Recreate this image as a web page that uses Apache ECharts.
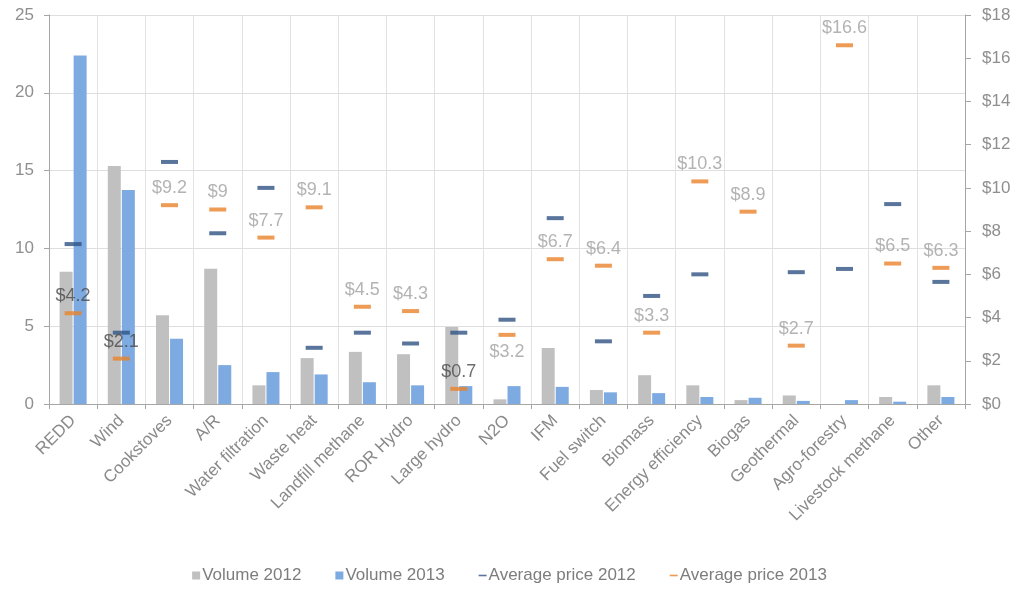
<!DOCTYPE html>
<html>
<head>
<meta charset="utf-8">
<script src="https://cdn.jsdelivr.net/npm/echarts@6/dist/echarts.min.js"></script>
<style>
  html, body { margin: 0; padding: 0; background: #fff; }
  #chart { width: 1019px; height: 594px; }
</style>
</head>
<body>
<div id="chart"></div>
<script>
// Offset project types
const categories = ['REDD', 'Wind', 'Cookstoves', 'A/R', 'Water filtration', 'Waste heat',
  'Landfill methane', 'ROR Hydro', 'Large hydro', 'N2O', 'IFM', 'Fuel switch', 'Biomass',
  'Energy efficiency', 'Biogas', 'Geothermal', 'Agro-forestry', 'Livestock methane', 'Other'];

// Transacted volume (MtCO2e)
const volume2012 = [8.5, 15.3, 5.7, 8.7, 1.2, 2.95, 3.35, 3.2, 4.95, 0.3, 3.6, 0.9, 1.85,
  1.2, 0.25, 0.55, 0, 0.45, 1.2];
const volume2013 = [22.4, 13.75, 4.2, 2.5, 2.05, 1.9, 1.4, 1.2, 1.15, 1.15, 1.1, 0.75, 0.7,
  0.45, 0.4, 0.2, 0.25, 0.15, 0.45];

// Average price (US$/tCO2e)
const price2012 = [7.4, 3.3, 11.2, 7.9, 10.0, 2.6, 3.3, 2.8, 3.3, 3.9, 8.6, 2.9, 5.0,
  6.0, null, 6.1, 6.25, 9.25, 5.65];
const price2013 = [4.2, 2.1, 9.2, 9.0, 7.7, 9.1, 4.5, 4.3, 0.7, 3.2, 6.7, 6.4, 3.3,
  10.3, 8.9, 2.7, 16.6, 6.5, 6.3];

// Axis ticks
const volumeTicks = [0, 5, 10, 15, 20, 25];
const priceTicks = [0, 2, 4, 6, 8, 10, 12, 14, 16, 18];

// Price labels drawn in a darker tone, and the one placed under its marker
const darkLabels = ['REDD', 'Wind', 'Large hydro'];
const belowLabels = ['N2O'];

const LABEL_GRAY = '#a0a0a0';
const AXIS_GRAY = '#8f8f8f';
const FONT = '"Liberation Sans", Arial, sans-serif';

const price2013Data = price2013.map((v, i) => {
  const item = { value: v };
  const lbl = {};
  if (darkLabels.includes(categories[i])) lbl.color = '#4a4a4a';
  if (belowLabels.includes(categories[i])) lbl.position = 'bottom';
  if (Object.keys(lbl).length) item.label = lbl;
  return item;
});

const dashPath = 'path://M0,0 L10,0 L10,2 L0,2 Z';

const chart = echarts.init(document.getElementById('chart'), null, { renderer: 'canvas' });
chart.setOption({
  animation: false,
  textStyle: { fontFamily: FONT },
  grid: { left: 49, right: 54, top: 15, bottom: 190, containLabel: false },
  legend: {
    bottom: 5,
    left: 'center',
    itemGap: 34,
    itemWidth: 8,
    itemHeight: 8,
    textStyle: { color: '#7d7d7d', fontSize: 17, fontFamily: FONT, padding: [0, 0, 0, -3] },
    data: [
      { name: 'Volume 2012', icon: 'rect' },
      { name: 'Volume 2013', icon: 'rect' },
      { name: 'Average price 2012', icon: dashPath },
      { name: 'Average price 2013', icon: dashPath }
    ]
  },
  xAxis: {
    type: 'category',
    data: categories,
    boundaryGap: true,
    axisLine: { show: true, lineStyle: { color: '#a6a6a6' } },
    axisTick: { show: true, length: 5, lineStyle: { color: '#a6a6a6' } },
    splitLine: { show: true, lineStyle: { color: '#e2e2e2' } },
    axisLabel: {
      rotate: 45,
      interval: 0,
      color: '#8a8a8a',
      fontSize: 17,
      fontFamily: FONT,
      margin: 14
    }
  },
  yAxis: [
    {
      type: 'value',
      min: volumeTicks[0],
      max: volumeTicks[volumeTicks.length - 1],
      interval: 5,
      axisLine: { show: true, lineStyle: { color: '#a6a6a6' } },
      axisTick: { show: true, length: 5, lineStyle: { color: '#a6a6a6' } },
      splitLine: { show: true, lineStyle: { color: '#dedede' } },
      axisLabel: { color: AXIS_GRAY, fontSize: 17, fontFamily: FONT, margin: 15 }
    },
    {
      type: 'value',
      position: 'right',
      min: priceTicks[0],
      max: priceTicks[priceTicks.length - 1],
      interval: 2,
      axisLine: { show: true, lineStyle: { color: '#a6a6a6' } },
      axisTick: { show: true, length: 6, lineStyle: { color: '#a6a6a6' } },
      splitLine: { show: false },
      axisLabel: {
        color: AXIS_GRAY, fontSize: 17, fontFamily: FONT, margin: 17,
        formatter: v => '$' + v
      }
    }
  ],
  series: [
    {
      name: 'Volume 2012',
      type: 'bar',
      yAxisIndex: 0,
      data: volume2012,
      barWidth: 13,
      barGap: '8%',
      itemStyle: { color: '#c0c0c0' }
    },
    {
      name: 'Volume 2013',
      type: 'bar',
      yAxisIndex: 0,
      data: volume2013,
      barWidth: 13,
      barGap: '8%',
      itemStyle: { color: '#7eaae2' }
    },
    {
      name: 'Average price 2012',
      type: 'scatter',
      yAxisIndex: 1,
      data: price2012,
      symbol: 'rect',
      symbolSize: [17, 4],
      itemStyle: { color: '#2f5283' },
      z: 5
    },
    {
      name: 'Average price 2013',
      type: 'scatter',
      yAxisIndex: 1,
      data: price2013Data,
      symbol: 'rect',
      symbolSize: [17, 4],
      itemStyle: { color: '#e8822a' },
      z: 6,
      label: {
        show: true,
        position: 'top',
        distance: 6,
        color: LABEL_GRAY,
        fontSize: 18,
        fontFamily: FONT,
        formatter: p => '$' + p.value
      }
    }
  ]
});
</script>
</body>
</html>
